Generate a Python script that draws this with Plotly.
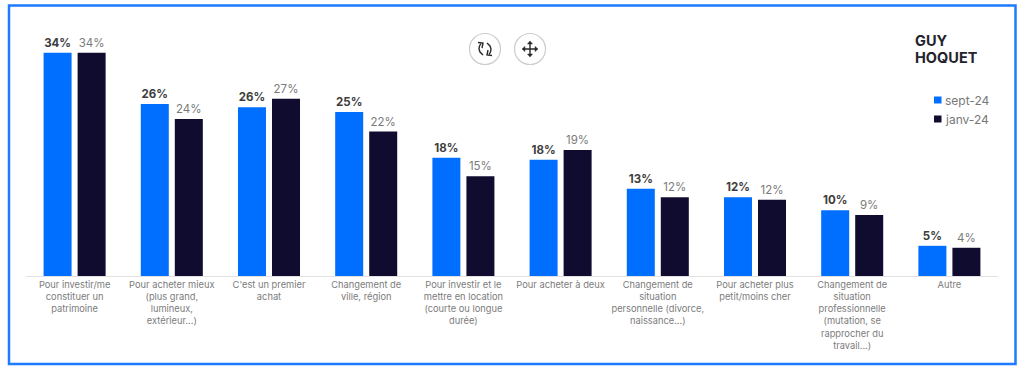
import plotly.graph_objects as go

categories = [
    "Pour investir/me<br>constituer un<br>patrimoine",
    "Pour acheter mieux<br>(plus grand,<br>lumineux,<br>extérieur...)",
    "C'est un premier<br>achat",
    "Changement de<br>ville, région",
    "Pour investir et le<br>mettre en location<br>(courte ou longue<br>durée)",
    "Pour acheter à deux",
    "Changement de<br>situation<br>personnelle (divorce,<br>naissance...)",
    "Pour acheter plus<br>petit/moins cher",
    "Changement de<br>situation<br>professionnelle<br>(mutation, se<br>rapprocher du<br>travail...)",
    "Autre",
]
sept_24 = [34.0, 26.2, 25.7, 25.0, 18.0, 17.7, 13.3, 12.0, 10.0, 4.6]
janv_24 = [34.0, 23.9, 27.0, 22.0, 15.2, 19.2, 12.0, 11.6, 9.3, 4.3]
series_names = ["sept-24", "janv-24"]
BLUE = "#006FFF"
NAVY = "#100C30"
W, H = 1024, 369
ML, MR, MT, MB = 26, 26, 20, 93
FONT = "Inter"


def px(x):
    return (x - ML) / (W - ML - MR)


def py(y):
    return (H - MB - y) / (H - MT - MB)


def path(cmds):
    out = []
    for c in cmds:
        if isinstance(c, str):
            out.append(c)
        else:
            out.append(f"{px(c[0]):.5f},{py(c[1]):.5f}")
    return " ".join(out)


def labels(vals):
    return [f"{round(v)}%" for v in vals]


clear_line = dict(color="rgba(0,0,0,0)", width=2)
fig = go.Figure()
fig.add_bar(x=categories, y=sept_24, name=series_names[0], marker=dict(color=BLUE, line=clear_line),
            text=labels(sept_24), textposition="outside", cliponaxis=False,
            textfont=dict(family=FONT, size=11.5, color="#3d3d3d", weight="bold"))
fig.add_bar(x=categories, y=janv_24, name=series_names[1], marker=dict(color=NAVY, line=clear_line),
            text=labels(janv_24), textposition="outside", cliponaxis=False,
            textfont=dict(family=FONT, size=11.5, color="#7a7a7a"))

shapes = [
    dict(type="rect", xref="paper", yref="paper", x0=px(9), x1=px(1015.5), y0=py(364), y1=py(5.5),
         line=dict(color="#1E7BFF", width=2.5), fillcolor="rgba(0,0,0,0)", layer="above"),
]
for cx in (485, 530):
    shapes.append(dict(type="circle", xref="paper", yref="paper", x0=px(cx - 15.5), x1=px(cx + 15.5),
                       y0=py(49 + 15.5), y1=py(49 - 15.5), line=dict(color="#c9ccd2", width=1.2),
                       fillcolor="white"))
ic = "#2a2a2a"
# rotate icon
shapes += [
    dict(type="path", xref="paper", yref="paper", line=dict(color=ic, width=1.4),
         path=path(["M", (481, 43.5), "L", (479.5, 46), "L", (479, 49), "L", (480, 52), "L", (483, 55)])),
    dict(type="path", xref="paper", yref="paper", line=dict(color=ic, width=1.4),
         path=path(["M", (489, 54.5), "L", (490.5, 52), "L", (491, 49), "L", (490, 46), "L", (487, 43)])),
    dict(type="path", xref="paper", yref="paper", line=dict(color=ic, width=1.4),
         path=path(["M", (478, 42.5), "L", (483, 43), "L", (482, 48)])),
    dict(type="path", xref="paper", yref="paper", line=dict(color=ic, width=1.4),
         path=path(["M", (492, 55.5), "L", (487, 55), "L", (488, 50)])),
]
# move icon
shapes += [
    dict(type="path", xref="paper", yref="paper", line=dict(color=ic, width=1.4),
         path=path(["M", (530, 42), "L", (530, 56), "M", (523, 49), "L", (537, 49)])),
]
for pts in ([(527.5, 44), (530, 41), (532.5, 44)], [(527.5, 54), (530, 57), (532.5, 54)],
            [(525, 46.5), (522, 49), (525, 51.5)], [(535, 46.5), (538, 49), (535, 51.5)]):
    shapes.append(dict(type="path", xref="paper", yref="paper", line=dict(color=ic, width=0.5), fillcolor=ic,
                       path=path(["M", pts[0], "L", pts[1], "L", pts[2], "Z"])))
# legend swatches
for y, col in ((99.5, BLUE), (118.5, NAVY)):
    shapes.append(dict(type="rect", xref="paper", yref="paper", x0=px(934), x1=px(941.5),
                       y0=py(y + 4), y1=py(y - 3), line_width=0, fillcolor=col))

annotations = [
    dict(text=series_names[0], x=px(943), y=py(100), xref="paper", yref="paper", xanchor="left", yanchor="middle",
         showarrow=False, font=dict(family=FONT, size=12, color="#777777")),
    dict(text=series_names[1], x=px(943), y=py(119), xref="paper", yref="paper", xanchor="left", yanchor="middle",
         showarrow=False, font=dict(family=FONT, size=12, color="#777777")),
    dict(text="<b>GUY</b>", x=px(913), y=py(40), xref="paper", yref="paper", xanchor="left", yanchor="middle",
         showarrow=False, font=dict(family=FONT, size=14.5, color="#23232b"), height=12),
    dict(text="<b>HOQUET</b>", x=px(913), y=py(56.5), xref="paper", yref="paper", xanchor="left", yanchor="middle",
         showarrow=False, font=dict(family=FONT, size=14.5, color="#23232b"), height=12),
]

fig.update_layout(
    width=W, height=H, margin=dict(l=ML, r=MR, t=MT, b=MB),
    paper_bgcolor="white", plot_bgcolor="white", showlegend=False,
    barmode="group", bargap=0.3, bargroupgap=0.177,
    font=dict(family=FONT, color="#777777"),
    shapes=shapes, annotations=annotations,
    xaxis=dict(type="category", showgrid=False, showline=True, linecolor="#e2e2e2", linewidth=1,
               ticks="", tickangle=0, tickfont=dict(family=FONT, size=9.3, color="#7c7c7c")),
    yaxis=dict(range=[0, 39], visible=False),
)
fig.write_html("out.html", config={"displayModeBar": False},
               post_script="document.body.style.margin='0';document.body.style.overflow='hidden';")
